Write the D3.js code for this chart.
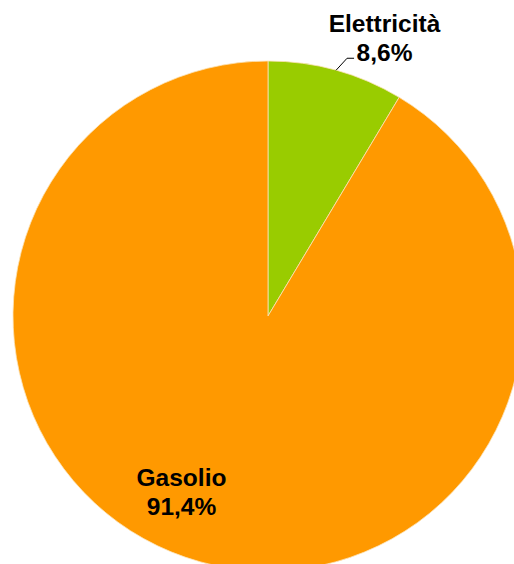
<!DOCTYPE html>
<html lang="it">
<head>
<meta charset="UTF-8">
<title>Consumi per fonte</title>
<script src="https://d3js.org/d3.v7.min.js"></script>
<style>
    body { margin: 0; background: #fff; }
    .label { font-family: "Liberation Sans", Arial, sans-serif; font-weight: bold; font-size: 24.5px; fill: #000; }
</style>
</head>
<body>
<svg width="514" height="564"></svg>
<script>
    const categories = ["Elettricità", "Gasolio"];
    const values = [8.6, 91.4];
    const valueLabels = ["8,6%", "91,4%"];
    const colors = ["#99CC00", "#FF9900"];

    const cx = 268, cy = 316, radius = 255;

    const svg = d3.select("svg");
    const g = svg.append("g").attr("transform", "translate(" + cx + "," + cy + ")");

    const data = categories.map((c, i) => ({ name: c, value: values[i], label: valueLabels[i], color: colors[i] }));

    const pie = d3.pie().sort(null).value(d => d.value);
    const arc = d3.arc().innerRadius(0).outerRadius(radius);
    const arcs = pie(data);

    g.selectAll("path.slice")
        .data(arcs)
      .enter().append("path")
        .attr("class", "slice")
        .attr("d", arc)
        .attr("fill", d => d.data.color)
        .attr("stroke", "#fbe3b8")
        .attr("stroke-width", 0.8);

    // etichetta Elettricità, fuori dalla torta con linea guida
    const el = arcs[0];
    const mid = (el.startAngle + el.endAngle) / 2;
    const p0 = [Math.sin(mid) * radius, -Math.cos(mid) * radius];
    g.append("polyline")
        .attr("points", [p0, [p0[0] + 11, p0[1] - 12], [p0[0] + 18, p0[1] - 12]].map(p => p.join(",")).join(" "))
        .attr("fill", "none")
        .attr("stroke", "#000")
        .attr("stroke-width", 1);

    const labelPos = [[384.5, 32], [181.5, 486]];
    const lineGap = 28.5;

    arcs.forEach((d, i) => {
        const t = svg.append("text")
            .attr("class", "label")
            .attr("text-anchor", "middle")
            .attr("x", labelPos[i][0])
            .attr("y", labelPos[i][1]);
        t.append("tspan").attr("x", labelPos[i][0]).text(d.data.name);
        t.append("tspan").attr("x", labelPos[i][0]).attr("dy", lineGap).text(d.data.label);
    });
</script>
</body>
</html>
